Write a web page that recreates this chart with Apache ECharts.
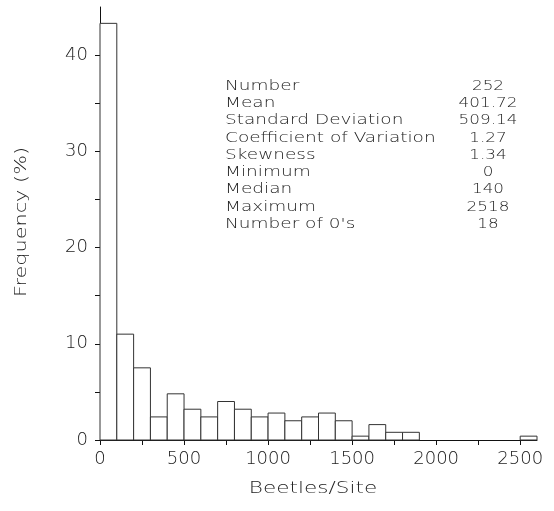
<!DOCTYPE html>
<html>
<head>
<meta charset="utf-8">
<script src="https://cdn.jsdelivr.net/npm/echarts@6/dist/echarts.min.js"></script>
<style>
  html, body { margin: 0; padding: 0; background: #fff; }
  #chart { width: 554px; height: 511px; }
</style>
</head>
<body>
<div id="chart"></div>
<script>
// histogram bins (beetles per site), width 100
const binStarts = [0, 100, 200, 300, 400, 500, 600, 700, 800, 900, 1000, 1100, 1200,
  1300, 1400, 1500, 1600, 1700, 1800, 1900, 2000, 2100, 2200, 2300, 2400, 2500]
const binWidth = 100
// frequency (%)
const freq = [43.3, 11.0, 7.5, 2.4, 4.8, 3.2, 2.4, 4.0, 3.2, 2.4, 2.8, 2.0, 2.4,
  2.8, 2.0, 0.4, 1.6, 0.8, 0.8, 0, 0, 0, 0, 0, 0, 0.4]

const statLabels = ['Number', 'Mean', 'Standard Deviation', 'Coefficient of Variation',
  'Skewness', 'Minimum', 'Median', 'Maximum', "Number of 0's"]
const statValues = ['252', '401.72', '509.14', '1.27', '1.34', '0', '140', '2518', '18']

const xTitle = 'Beetles/Site'
const yTitle = 'Frequency (%)'

const font = 'DejaVu Sans'
const ink = '#222'

let data = []
binStarts.forEach((s, i) => {
  data.push([s, s + binWidth, freq[i]])
})

function renderItem(params, api) {
  const h = api.value(2)
  if (!h) return null
  const p0 = api.coord([api.value(0), 0])
  const p1 = api.coord([api.value(1), h])
  return {
    type: 'rect',
    shape: { x: p0[0], y: p1[1], width: p1[0] - p0[0], height: p0[1] - p1[1] },
    style: { fill: '#fff', stroke: '#333', lineWidth: 1 }
  }
}

// the plotter font is wide, so texts get stretched sideways
let graphics = []
statLabels.forEach((t, i) => {
  graphics.push({
    type: 'text', x: 225, y: 86 + i * 17.3, scaleX: 1.32,
    style: { text: t, font: '200 14px "' + font + '"', fill: ink, verticalAlign: 'middle' }
  })
  graphics.push({
    type: 'text', x: 488, y: 86 + i * 17.3, scaleX: 1.2,
    style: { text: statValues[i], font: '200 14px "' + font + '"', fill: ink, align: 'center', verticalAlign: 'middle' }
  })
})
graphics.push({
  type: 'text', x: 313, y: 489, scaleX: 1.35,
  style: { text: xTitle, font: '200 16px "' + font + '"', fill: ink, align: 'center', verticalAlign: 'middle' }
})
graphics.push({
  type: 'text', x: 22, y: 222, rotation: Math.PI / 2, scaleX: 1.3,
  style: { text: yTitle, font: '200 16px "' + font + '"', fill: ink, align: 'center', verticalAlign: 'middle' }
})

const option = {
  animation: false,
  backgroundColor: '#fff',
  grid: { left: 100, right: 17, top: 7, bottom: 71 },
  xAxis: {
    type: 'value',
    min: 0,
    max: 2600,
    interval: 250,
    axisLine: { lineStyle: { color: '#111', width: 1 } },
    axisTick: { length: 5, lineStyle: { color: '#111' } },
    splitLine: { show: false },
    axisLabel: {
      fontFamily: font, fontWeight: 200, fontSize: 18, color: ink, margin: 10,
      showMaxLabel: false,
      formatter: (v) => (v % 500 === 0 ? String(v) : '')
    }
  },
  yAxis: {
    type: 'value',
    min: 0,
    max: 45,
    interval: 5,
    axisLine: { show: true, lineStyle: { color: '#111', width: 1 } },
    axisTick: { show: true, length: 5, lineStyle: { color: '#111' } },
    splitLine: { show: false },
    axisLabel: {
      fontFamily: font, fontWeight: 200, fontSize: 18, color: ink, margin: 12,
      showMaxLabel: false,
      formatter: (v) => (v % 10 === 0 ? String(v) : '')
    }
  },
  series: [{
    type: 'custom',
    renderItem: renderItem,
    encode: { x: [0, 1], y: 2 },
    data: data,
    z: 1
  }],
  graphic: graphics
}

const myChart = echarts.init(document.getElementById('chart'))
myChart.setOption(option)
</script>
</body>
</html>
